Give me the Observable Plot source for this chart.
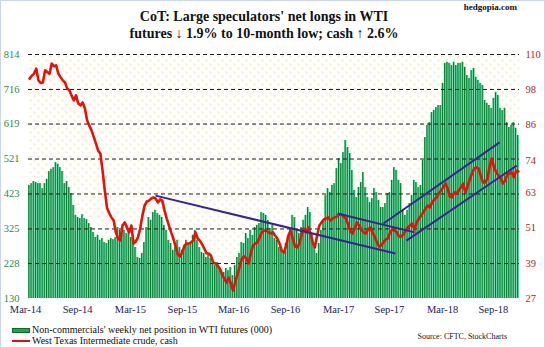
<!DOCTYPE html>
<html><head><meta charset="utf-8">
<script src="https://cdn.jsdelivr.net/npm/d3@7"></script>
<script src="https://cdn.jsdelivr.net/npm/@observablehq/plot@0.6"></script>
<style>
html,body{margin:0;padding:0;background:#fff;}
#wrap{position:relative;width:545px;height:348px;overflow:hidden;font-family:"Liberation Serif","Times New Roman",serif;color:#111;}
#border{position:absolute;left:0;top:0;width:545px;height:348px;box-sizing:border-box;border:1px solid #cdd6e6;pointer-events:none;}
#title{position:absolute;left:0;top:8px;width:528px;text-align:center;font-weight:bold;font-size:14px;line-height:17px;}
#brand{position:absolute;right:28px;top:1px;font-weight:bold;font-size:9px;line-height:12px;}
#chart{position:absolute;left:0;top:46px;}
.lg{position:absolute;font-size:10px;line-height:12px;white-space:nowrap;}
#sw1{position:absolute;left:12px;top:328px;width:16px;height:3px;background:#22a34c;border:1px solid #0b6b2a;}
#sw2{position:absolute;left:12px;top:340px;width:18px;height:2px;background:#dd1111;}
#src{position:absolute;right:38px;top:332px;font-size:8px;line-height:10px;white-space:nowrap;}
</style></head>
<body>
<div id="wrap">
  <div id="title">CoT: Large speculators' net longs in WTI<br>futures ↓ 1.9% to 10-month low; cash ↑ 2.6%</div>
  <div id="brand">hedgopia.com</div>
  <div id="chart"></div>
  <div id="sw1"></div><div class="lg" style="left:32px;top:324px;">Non-commercials' weekly net position in WTI futures (000)</div>
  <div id="sw2"></div><div class="lg" style="left:32px;top:335px;">West Texas Intermediate crude, cash</div>
  <div id="src">Source: CFTC, StockCharts</div>
  <div id="border"></div>
</div>
<script>
// Non-commercials' weekly net position in WTI futures (000), one value per week
const cotNet = [
447,452,458,455,452,452,438,452,464,486,492,497,511,506,497,486,452,458,441,424,
391,363,357,354,365,354,351,340,329,315,301,307,293,298,287,284,293,298,295,301,
329,321,326,321,312,326,301,293,273,245,242,256,287,329,357,349,
371,377,368,363,357,335,321,293,284,265,273,293,273,265,270,293,284,287,307,321,
293,273,259,256,245,251,242,228,222,231,214,208,203,214,208,217,194,222,245,256,
287,284,312,298,321,307,329,335,340,371,368,363,349,326,335,
298,293,273,265,256,284,301,329,363,357,321,312,329,349,363,385,371,312,284,256,
284,321,349,419,438,427,447,452,494,522,508,539,573,553,536,489,433,413,441,455,
483,441,413,399,410,438,427,405,385,385,396,424,427,461,497,489,461,
452,377,363,377,396,419,461,455,441,447,517,581,615,623,651,657,665,671,671,733,
789,792,789,783,792,783,789,789,792,778,755,747,769,775,750,741,733,727,685,677,
671,663,691,707,699,663,657,663,623,609,615,623,607,587
];
// West Texas Intermediate crude, cash ($), same weeks
const wtiCash = [
101.8,102.8,103.5,105.2,101.2,100.3,100.5,104.6,104.0,103.5,106.9,106.0,106.3,103.5,102.3,101.2,100.5,98.4,97.8,96.0,
94.4,96.1,93.3,92.7,93.7,91.6,87.6,85.8,84.2,82.0,79.7,77.3,76.3,70.5,63.7,57.8,56.0,54.6,53.5,49.5,
47.4,46.7,51.8,52.9,51.2,49.5,51.8,45.7,46.4,47.8,50.8,55.2,58.6,60.0,60.3,61.0,61.4,61.0,59.7,60.7,
60.3,56.9,54.2,51.8,49.5,47.4,44.7,42.0,41.3,42.6,45.0,45.7,45.7,46.1,46.7,49.5,47.4,46.7,45.4,44.0,
42.3,42.3,41.6,39.2,38.9,38.2,37.2,35.2,33.8,32.4,34.1,32.1,29.7,32.8,35.2,37.9,40.6,41.3,40.6,38.9,
42.3,45.0,45.7,46.1,47.8,49.5,50.1,50.1,49.5,49.1,49.5,48.4,47.4,45.7,43.3,42.6,45.0,48.4,50.1,47.4,
44.7,44.4,45.7,48.8,50.8,49.5,51.2,49.1,46.1,44.4,48.4,51.8,52.9,53.9,54.2,54.6,53.5,54.2,54.6,54.9,
55.6,55.6,54.9,54.2,52.2,49.8,49.1,50.8,52.9,51.8,50.5,49.5,49.1,50.5,51.2,49.5,48.1,46.1,44.7,45.0,
46.1,47.1,47.4,49.5,50.5,50.1,49.5,48.1,48.1,48.8,50.1,51.2,51.8,52.5,50.5,52.9,54.2,55.2,56.3,57.6,
58.6,58.0,59.7,60.7,61.4,62.7,63.7,64.8,66.1,64.4,61.7,61.4,63.1,62.7,63.7,64.8,66.1,63.1,65.1,67.5,
69.5,71.2,71.6,71.2,68.8,66.5,66.5,67.8,71.9,74.6,71.6,69.9,68.8,67.8,66.1,67.1,69.2,69.5,69.9,68.2,
70.5,70.2
];
// x-axis labels and the week positions where they sit
const xTickLabels = ["Mar-14","Sep-14","Mar-15","Sep-15","Mar-16","Sep-16","Mar-17","Sep-17","Mar-18","Sep-18"];
const xTickWeeks  = [-1.85, 21.7, 45.6, 69.1, 92.2, 115.7, 139.7, 162.7, 186.7, 209.7];
// left axis (net position, 000) and right axis (price) tick labels
const leftTicks  = [130, 228, 325, 423, 521, 619, 716, 814];
const rightTicks = [27, 39, 51, 63, 74, 86, 98, 110];
// hand-drawn trend lines on the price series
const trendStartWeek = [56.9, 139.2, 160.0, 170.4];
const trendStartPrice = [62.0, 55.9, 52.5, 46.7];
const trendEndWeek = [165.4, 174.0, 212.5, 220.2];
const trendEndPrice = [42.3, 49.5, 80.1, 72.2];

const N = cotNet.length;
const rows = cotNet.map((v, i) => ({i, v, p: wtiCash[i]}));
const trends = trendStartWeek.map((w, k) => ({w1: w, p1: trendStartPrice[k], w2: trendEndWeek[k], p2: trendEndPrice[k]}));
// map price (right axis 27..110) onto the left axis (130..814)
const L0 = 130, L1 = 814, R0 = 27, R1 = 110;
const toLeft = p => L0 + (p - R0) * (L1 - L0) / (R1 - R0);
const rightPos = rightTicks.map(toLeft);

const chart = Plot.plot({
  width: 545, height: 276,
  marginTop: 8, marginBottom: 24, marginLeft: 28, marginRight: 26,
  style: {fontFamily: "Liberation Serif, Times New Roman, serif", fontSize: "10.5px", background: "transparent"},
  x: {domain: [-0.5, N - 0.5]},
  y: {domain: [L0, L1]},
  marks: [
    Plot.frame({fill: "url(#dots)", stroke: null}),
    Plot.rectY(rows, {x1: d => d.i - 0.5, x2: d => d.i + 0.5, y1: L0, y2: "v", fill: "#5fd39c", inset: 0}),
    Plot.ruleX(rows, {x: d => d.i - 0.35, y1: L0, y2: "v", stroke: "#067a2e", strokeWidth: 1}),
    Plot.ruleY(leftTicks.slice(1), {stroke: "#1a1a1a", strokeDasharray: "4,3", strokeWidth: 1}),
    Plot.line(rows, {x: "i", y: d => toLeft(d.p), stroke: "#e3120b", strokeWidth: 2.6, curve: "linear"}),
    Plot.link(trends, {x1: "w1", y1: d => toLeft(d.p1), x2: "w2", y2: d => toLeft(d.p2), stroke: "#3b238f", strokeWidth: 2}),
    Plot.axisY(leftTicks, {anchor: "left", tickSize: 0, tickPadding: 9, color: "#2a8a45", label: null, fontSize: 10.5}),
    Plot.axisY(rightPos, {anchor: "right", tickSize: 0, tickPadding: 6, color: "#a5282c", label: null, fontSize: 10.5,
      tickFormat: d => rightTicks[rightPos.indexOf(d)]}),
    Plot.axisX(xTickWeeks, {anchor: "bottom", tickSize: 0, tickPadding: 7, color: "#1b1b55", label: null, fontSize: 10.5,
      tickFormat: d => xTickLabels[xTickWeeks.indexOf(d)]})
  ]
});
const ns = "http://www.w3.org/2000/svg";
const defs = document.createElementNS(ns, "defs");
defs.innerHTML = '<pattern id="dots" width="8" height="8" patternUnits="userSpaceOnUse"><rect width="8" height="8" fill="#ffffff"/><circle cx="2" cy="2" r="0.9" fill="#eee7a0"/><circle cx="6" cy="6" r="0.9" fill="#eee7a0"/></pattern>';
chart.insertBefore(defs, chart.firstChild);
document.getElementById("chart").appendChild(chart);
</script>
</body></html>
